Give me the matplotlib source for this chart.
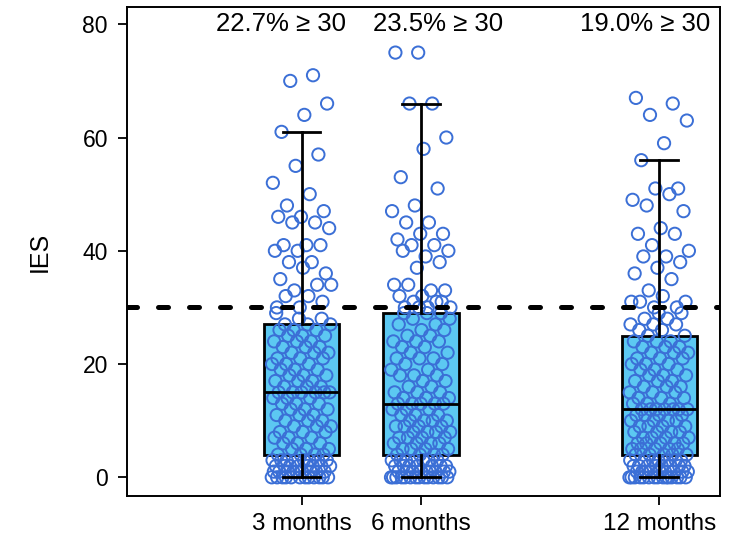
import numpy as np
import matplotlib
matplotlib.use("Agg")
import matplotlib.pyplot as plt

plt.rcParams['font.family'] = ['Liberation Sans', 'DejaVu Sans']

# time points (months) and their tick labels
months = [3, 6, 12]
tick_labels = ['3 months', '6 months', '12 months']

# IES scores (integers, one per participant)
ies_3m = ([0]*12 + [1]*9 + [2]*8 + [3]*8 +
          [4]*4 + [5]*3 + [6]*3 + [7]*3 + [8]*3 + [9]*3 + [10]*3 + [11]*3 +
          [12]*3 + [13]*3 + [14]*3 + [15]*4 +
          [15]*2 + [16]*3 + [17]*3 + [18]*3 + [19]*3 + [20]*3 + [21]*3 +
          [22]*3 + [23]*3 + [24]*3 + [25]*3 + [26]*3 + [27]*3 +
          [28, 28, 29] +
          [71, 70, 66, 64, 61, 57, 55, 52, 50, 48, 47, 46, 46, 45, 45, 44, 41,
           41, 41, 40, 40, 38, 38, 36, 37, 35, 34, 33, 34, 32, 32, 31, 30, 30])

ies_6m = ([0]*14 + [1]*9 + [2]*7 + [3]*7 +
          [4]*4 + [5]*4 + [6]*4 + [7]*4 + [8]*4 + [9]*4 + [10]*4 + [11]*3 +
          [12]*3 + [13]*4 +
          [13] + [14]*3 + [15]*3 + [16]*2 + [17]*2 + [18]*3 + [19]*2 + [20]*2 +
          [21]*3 + [22]*2 + [23]*2 + [24]*3 + [25]*2 + [26]*2 + [27]*2 + [28]*2 +
          [29]*3 +
          [75, 75, 66, 66, 60, 58, 53, 51, 48, 47, 45, 45, 43, 43, 42, 41, 41,
           40, 39, 40, 38, 37, 34, 33, 34, 33, 32, 32, 31, 31, 30, 30, 30, 31, 30])

ies_12m = ([0]*15 + [1]*9 + [2]*8 + [3]*7 +
           [4]*5 + [5]*5 + [6]*5 + [7]*4 + [8]*4 + [9]*4 + [10]*4 + [11]*4 +
           [12]*5 +
           [12]*2 + [13]*3 + [14]*3 + [15]*3 + [16]*3 + [17]*3 + [18]*3 +
           [19]*3 + [20]*3 + [21]*3 + [22]*3 + [23]*3 + [24]*3 + [25]*2 +
           [26, 26, 27, 27, 27, 28, 28, 29, 29] +
           [67, 66, 64, 63, 59, 56, 51, 51, 49, 50, 48, 47, 44, 43, 43, 41, 40,
            39, 39, 38, 37, 36, 35, 33, 31, 32, 31, 30, 30, 31])

groups = [ies_3m, ies_6m, ies_12m]

# box summaries as drawn in the figure
q1 = [4, 4, 4]
med = [15, 13, 12]
q3 = [27, 29, 25]
whis_lo = [0, 0, 0]
whis_hi = [61, 66, 56]

cutoff = 30
pct_labels = ['22.7% \u2265 30', '23.5% \u2265 30', '19.0% \u2265 30']
pct_x = [2.48, 6.44, 11.65]

fig = plt.figure(figsize=(7.38, 5.4), dpi=100)
ax = fig.add_axes([0.1717, 0.0815, 0.804, 0.905])

stats = [dict(med=m, q1=a, q3=b, whislo=lo, whishi=hi, fliers=[])
         for m, a, b, lo, hi in zip(med, q1, q3, whis_lo, whis_hi)]
ax.bxp(stats, positions=months, widths=1.9, capwidths=0.95,
       patch_artist=True, showfliers=False, manage_ticks=False,
       boxprops=dict(facecolor='#5CC8F2', edgecolor='black', linewidth=2, zorder=1),
       medianprops=dict(color='black', linewidth=2, zorder=3),
       whiskerprops=dict(color='black', linewidth=2, zorder=3),
       capprops=dict(color='black', linewidth=2, zorder=3))

# jittered points (deterministic spread around each time point)
for m, vals in zip(months, groups):
    vals = np.array(vals)
    k = np.arange(len(vals))
    offs = ((k * 0.618034) % 1.0 - 0.5) * 1.5
    ax.scatter(m + offs, vals, s=78, facecolors='none', edgecolors='#3B6FD6',
               linewidths=1.4, zorder=2)

ax.axhline(cutoff, color='black', linewidth=3.6, linestyle=(0, (2.0, 4.2)),
           dash_capstyle='round', zorder=4)

for x, t in zip(pct_x, pct_labels):
    ax.text(x, 80, t, ha='center', va='center', fontsize=18.5)

ax.set_xlim(-1.4, 13.53)
ax.set_ylim(-3.3, 83)
ax.set_xticks(months)
ax.set_xticklabels(tick_labels, fontsize=17.5)
ax.set_yticks([0, 20, 40, 60, 80])
ax.tick_params(axis='both', length=6.5, width=1.3, direction='out')
ax.tick_params(axis='y', labelsize=16.5, pad=7)
ax.tick_params(axis='x', pad=6)
ax.set_ylabel('IES', fontsize=18, labelpad=22)
for sp in ax.spines.values():
    sp.set_linewidth(1.4)

fig.savefig('out.png', dpi=100)
